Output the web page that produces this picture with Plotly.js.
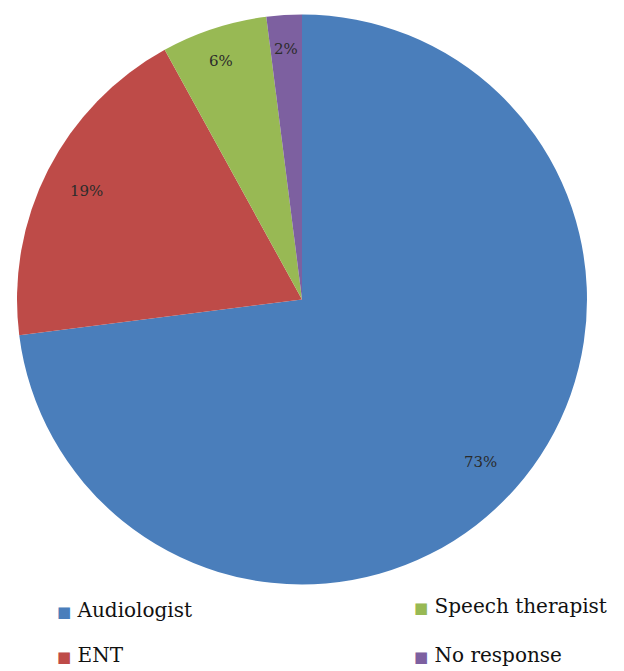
<!DOCTYPE html>
<html>
<head>
<meta charset="utf-8">
<script src="https://cdn.plot.ly/plotly-3.0.1.min.js"></script>
<style>html,body{margin:0;padding:0;background:#fff;}#chart{width:624px;height:671px;}</style>
</head>
<body>
<div id="chart"></div>
<script>
const categories = ['Audiologist', 'ENT', 'Speech therapist', 'No response'];
const values = [73, 19, 6, 2];
const colors = ['#4a7ebb', '#be4b48', '#98b954', '#7d60a0'];

const W = 624, H = 671;
const domX = [17 / W, 587 / W];
const domY = [1 - 585 / H, 1 - 14 / H];
const SERIF = 'DejaVu Serif';

const pie = {
  type: 'pie',
  values: values,
  labels: categories,
  sort: false,
  direction: 'clockwise',
  rotation: 0,
  textinfo: 'none',
  hoverinfo: 'label+percent',
  showlegend: false,
  marker: { colors: colors, line: { width: 0 } },
  domain: { x: domX, y: domY }
};

// percentage labels placed along each slice bisector
const total = values.reduce((a, b) => a + b, 0);
const cx = (domX[0] + domX[1]) / 2, cy = (domY[0] + domY[1]) / 2;
const rpx = Math.min((domX[1] - domX[0]) * W, (domY[1] - domY[0]) * H) / 2;
const annotations = [];
let cum = 0;
values.forEach((v) => {
  const mid = (cum + v / 2) / total * 2 * Math.PI;
  cum += v;
  const d = 0.92 * rpx;
  annotations.push({
    xref: 'paper', yref: 'paper',
    x: cx + d * Math.sin(mid) / W,
    y: cy + d * Math.cos(mid) / H,
    text: v + '%', showarrow: false,
    font: { family: SERIF, size: 15, color: '#2b2b2b' }
  });
});

// legend: two columns, coloured square + serif label
const legendPos = [
  { x: 55, y: 610 },
  { x: 55, y: 655 },
  { x: 412, y: 606 },
  { x: 412, y: 655 }
];
categories.forEach((c, i) => {
  annotations.push({
    xref: 'paper', yref: 'paper',
    x: legendPos[i].x / W, y: 1 - legendPos[i].y / H,
    xanchor: 'left', yanchor: 'middle', showarrow: false,
    text: '<span style="color:' + colors[i] + ';font-size:15px">\u25A0</span> ' + c,
    font: { family: SERIF, size: 20, color: '#111' }
  });
});

const layout = {
  width: W, height: H,
  margin: { l: 0, r: 0, t: 0, b: 0, autoexpand: false },
  paper_bgcolor: '#fff',
  showlegend: false,
  annotations: annotations
};

Plotly.newPlot('chart', [pie], layout, { displayModeBar: false, staticPlot: true });
</script>
</body>
</html>
